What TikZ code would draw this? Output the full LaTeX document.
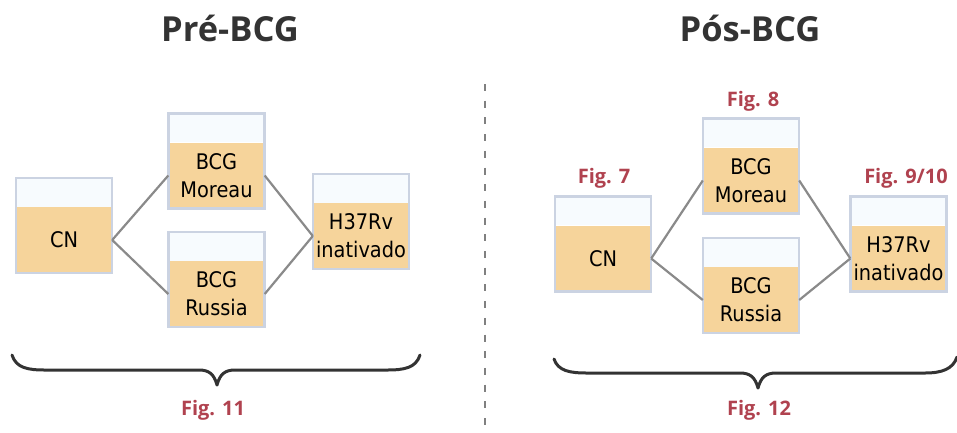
\documentclass[tikz,border=0pt]{standalone}
\usepackage{fontspec}
\setmainfont{DejaVu Sans}
\newfontfamily\boxfont[FakeStretch=0.9]{DejaVu Sans}
\newfontfamily\headfont{Open Sans}
\definecolor{boxedge}{HTML}{CBD3E2}
\definecolor{topfill}{HTML}{F7FBFE}
\definecolor{tan}{HTML}{F6D49B}
\definecolor{figred}{HTML}{B0424F}
\definecolor{linkgray}{HTML}{8A8A8A}
\definecolor{titlegray}{HTML}{333333}
\tikzset{
  tube/.style={rectangle, fill=tan, minimum width=96pt, minimum height=66pt, inner sep=0pt,
    align=center, font=\boxfont\fontsize{21.5}{28}\selectfont, text=black},
  link/.style={draw=linkgray, line width=2.2pt},
  title/.style={anchor=base, font=\headfont\bfseries\fontsize{34.5}{38}\selectfont, text=titlegray},
  figlabel/.style={anchor=base, font=\headfont\bfseries\fontsize{20}{24}\selectfont, text=figred},
  bracestyle/.style={draw=titlegray, line width=3pt, line cap=round, line join=round},
}
\begin{document}
\begin{tikzpicture}[x=1pt, y=-1pt]
\useasboundingbox (0,0) rectangle (957,432);
% titles
\node[title] (t1) at (230,41) {Pré-BCG};
\node[title] (t2) at (750,41) {Pós-BCG};
% left panel
\node[tube] (cn1) at (64,240) {CN};
\node[tube] (mo1) at (216.5,175.5) {BCG\\Moreau};
\node[tube] (ru1) at (216.5,294) {BCG\\Russia};
\node[tube] (h1) at (361,236) {H37Rv\\inativado};
% right panel
\node[tube] (cn2) at (603,258.5) {CN};
\node[tube] (mo2) at (751,180.5) {BCG\\Moreau};
\node[tube] (ru2) at (751,300) {BCG\\Russia};
\node[tube] (h2) at (898.5,258.5) {H37Rv\\inativado};
\foreach \n in {cn1,mo1,ru1,h1,cn2,mo2,ru2,h2}{
  \fill[topfill] (\n.north west) rectangle ([yshift=29pt]\n.north east);
  \draw[boxedge, line width=2.5pt] (\n.south west) rectangle ([yshift=29pt]\n.north east);
}
% connectors
\draw[link] (cn1.east) -- (mo1.west);
\draw[link] (cn1.east) -- (ru1.west);
\draw[link] (mo1.east) -- (h1.west);
\draw[link] (ru1.east) -- (h1.west);
\draw[link] (cn2.east) -- (mo2.west);
\draw[link] (cn2.east) -- (ru2.west);
\draw[link] (mo2.east) -- (h2.west);
\draw[link] (ru2.east) -- (h2.west);
% fig labels
\node[figlabel] (f7) at (604,183) {Fig. 7};
\node[figlabel] (f8) at (753,106) {Fig. 8};
\node[figlabel] (f910) at (906,183) {Fig. 9/10};
\node[figlabel] (f11) at (213,415) {Fig. 11};
\node[figlabel] (f12) at (759,415) {Fig. 12};
% divider
\draw[draw=gray, line width=2.5pt, dash pattern=on 7pt off 9.7pt] (485,84) -- (485,432);
% braces
\draw[bracestyle] (12,355) .. controls (16,368) and (28,370) .. (45,370) -- (199,370)
  .. controls (209,370) and (214,374) .. (217,385)
  .. controls (220,374) and (225,370) .. (235,370) -- (387,370)
  .. controls (404,370) and (416,368) .. (420,355);
\draw[bracestyle] (554,359) .. controls (558,371) and (570,373) .. (587,373) -- (740,373)
  .. controls (750,373) and (755,377) .. (758,388)
  .. controls (761,377) and (766,373) .. (776,373) -- (925,373)
  .. controls (942,373) and (953,369) .. (957,357);
\end{tikzpicture}
\end{document}
